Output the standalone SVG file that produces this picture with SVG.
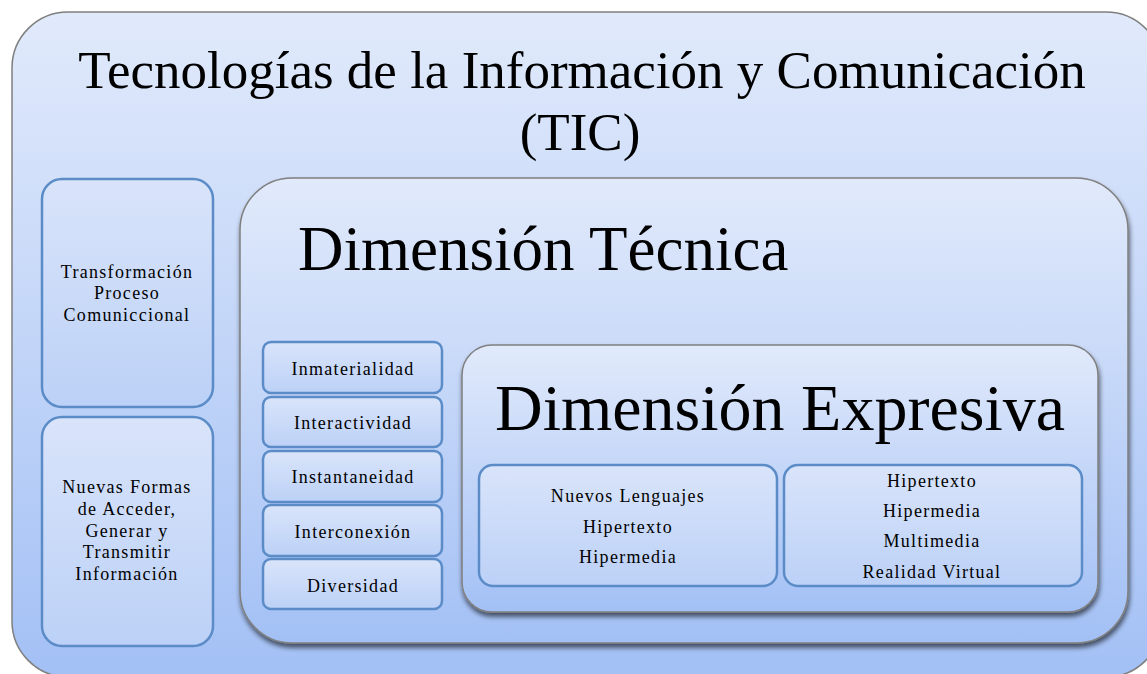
<svg xmlns="http://www.w3.org/2000/svg" width="1147" height="674" viewBox="0 0 1147 674">
<defs>
<linearGradient id="g" x1="0" y1="0" x2="0" y2="1">
<stop offset="0" stop-color="#e1eafb"/>
<stop offset="1" stop-color="#a3c0f5"/>
</linearGradient>
<linearGradient id="gs" x1="0" y1="0" x2="0" y2="1">
<stop offset="0" stop-color="#d9e4fa"/>
<stop offset="1" stop-color="#bcd1f7"/>
</linearGradient>
<filter id="sh" x="-5%" y="-5%" width="110%" height="115%">
<feGaussianBlur in="SourceAlpha" stdDeviation="2.5"/>
<feOffset dx="1" dy="4" result="b"/>
<feComponentTransfer><feFuncA type="linear" slope="0.6"/></feComponentTransfer>
<feMerge><feMergeNode/><feMergeNode in="SourceGraphic"/></feMerge>
</filter>
</defs>
<style>
.big{fill:url(#g);stroke:#7f7f7f;stroke-width:1.5}
.box{fill:url(#gs);stroke:#5b8cc8;stroke-width:2.5}
.t{font-family:"Liberation Serif",serif;fill:#000;text-anchor:middle}
.s{font-size:18px;letter-spacing:1.3px}
</style>
<rect width="1147" height="674" fill="#ffffff"/>
<g id="tic">
<rect class="big" x="12" y="12" width="1150" height="665" rx="56"/>
<text class="t" x="582" y="88" font-size="53">Tecnologías de la Información y Comunicación</text>
<text class="t" x="580" y="150" font-size="53">(TIC)</text>
</g>
<g id="transformacion">
<rect class="box" x="42" y="179" width="171" height="228" rx="20"/>
<text class="t s" x="127" y="278">Transformación</text>
<text class="t s" x="127" y="299">Proceso</text>
<text class="t s" x="127" y="321">Comuniccional</text>
</g>
<g id="nuevas-formas">
<rect class="box" x="42" y="417" width="171" height="229" rx="20"/>
<text class="t s" x="127" y="493">Nuevas Formas</text>
<text class="t s" x="127" y="515">de Acceder,</text>
<text class="t s" x="127" y="537">Generar y</text>
<text class="t s" x="127" y="558">Transmitir</text>
<text class="t s" x="127" y="580">Información</text>
</g>
<g id="dimension-tecnica">
<rect class="big" x="240" y="178" width="888" height="465" rx="52" filter="url(#sh)"/>
<text class="t" x="298" y="270" font-size="63" text-anchor="start" style="text-anchor:start">Dimensión Técnica</text>
</g>
<g id="inmaterialidad">
<rect class="box" x="263" y="342" width="179" height="51" rx="8"/>
<text class="t s" x="353" y="375">Inmaterialidad</text>
</g>
<g id="interactividad">
<rect class="box" x="263" y="397" width="179" height="50" rx="8"/>
<text class="t s" x="353" y="429">Interactividad</text>
</g>
<g id="instantaneidad">
<rect class="box" x="263" y="451" width="179" height="51" rx="8"/>
<text class="t s" x="353" y="483">Instantaneidad</text>
</g>
<g id="interconexion">
<rect class="box" x="263" y="505" width="179" height="51" rx="8"/>
<text class="t s" x="353" y="538">Interconexión</text>
</g>
<g id="diversidad">
<rect class="box" x="263" y="559" width="179" height="50" rx="8"/>
<text class="t s" x="353" y="592">Diversidad</text>
</g>
<g id="dimension-expresiva">
<rect class="big" x="462" y="345" width="636" height="267" rx="30" filter="url(#sh)"/>
<text class="t" x="780" y="430" font-size="66">Dimensión Expresiva</text>
</g>
<g id="lenguajes">
<rect class="box" x="479" y="465" width="298" height="121" rx="14"/>
<text class="t s" x="628" y="502">Nuevos Lenguajes</text>
<text class="t s" x="628" y="533">Hipertexto</text>
<text class="t s" x="628" y="563">Hipermedia</text>
</g>
<g id="medios">
<rect class="box" x="784" y="465" width="298" height="121" rx="14"/>
<text class="t s" x="932" y="487">Hipertexto</text>
<text class="t s" x="932" y="517">Hipermedia</text>
<text class="t s" x="932" y="547">Multimedia</text>
<text class="t s" x="932" y="578">Realidad Virtual</text>
</g>
<g id="connectors"></g>
</svg>
